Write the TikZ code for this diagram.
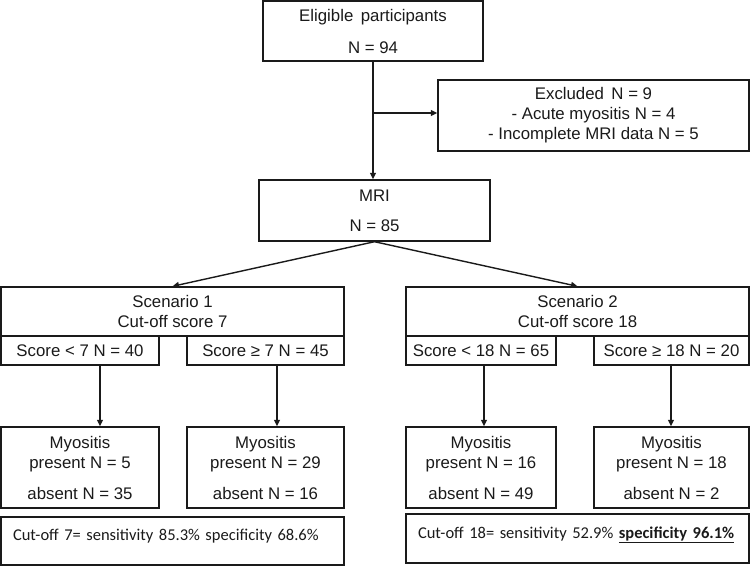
\documentclass[tikz,border=0pt]{standalone}
\usepackage{fontspec}
\setmainfont{Liberation Sans}
\newfontfamily\calib{Carlito}
\usetikzlibrary{arrows.meta}
\definecolor{ink}{HTML}{1A1A1A}
\tikzset{
  box/.style={draw=ink, text=ink, line width=1.4pt, inner sep=0pt, align=center,
    font=\fontsize{16.8}{20}\selectfont},
  notebox/.style={draw=ink, text=ink, line width=1.4pt, inner xsep=12pt, inner ysep=0pt,
    text width=319pt, align=left, text height=12.5pt, text depth=13.5pt,
    font=\calib\fontsize{16.5}{19.8}\selectfont},
  arr/.style={draw=ink, line width=1.4pt, -{Triangle[length=6.5pt,width=6pt]}}
}
\begin{document}
\begin{tikzpicture}[x=1pt,y=-1pt]
\useasboundingbox (0,0) rectangle (750,566);
% top
\node[box, minimum width=220pt, minimum height=60pt] (elig) at (373,31)
  {Eligible\, participants\\[12pt]N = 94};
\node[box, minimum width=311pt, minimum height=71pt] (excl) at (593.5,115.5)
  {Excluded\, N = 9\\- Acute myositis N = 4\\- Incomplete MRI data N = 5};
\node[box, minimum width=231pt, minimum height=61pt] (mri) at (374.5,210.5)
  {MRI\\[10pt]N = 85};
% scenarios
\node[box, minimum width=343pt, minimum height=49pt] (sc1) at (172.5,311.5)
  {Scenario 1\\Cut-off score 7};
\node[box, minimum width=343pt, minimum height=49pt] (sc2) at (577.5,311.5)
  {Scenario 2\\Cut-off score 18};
\node[box, minimum width=158pt, minimum height=29pt] (s1a) at (80,350.5) {Score < 7 N = 40};
\node[box, minimum width=157pt, minimum height=29pt] (s1b) at (265.5,350.5) {Score ≥ 7 N = 45};
\node[box, minimum width=150pt, minimum height=29pt] (s2a) at (481,350.5) {Score < 18 N = 65};
\node[box, minimum width=155pt, minimum height=29pt] (s2b) at (671.5,350.5) {Score ≥ 18 N = 20};
% results
\node[box, minimum width=158pt, minimum height=81pt] (m1) at (80,467.5)
  {Myositis\\present N = 5\\[11pt]absent N = 35};
\node[box, minimum width=157pt, minimum height=81pt] (m2) at (265.5,467.5)
  {Myositis\\present N = 29\\[11pt]absent N = 16};
\node[box, minimum width=150pt, minimum height=81pt] (m3) at (481,467.5)
  {Myositis\\present N = 16\\[11pt]absent N = 49};
\node[box, minimum width=155pt, minimum height=81pt] (m4) at (671.5,467.5)
  {Myositis\\present N = 18\\[11pt]absent N = 2};
% notes
\node[notebox, minimum height=48pt] (c1) at (172.5,541)
  {Cut-off 7= sensitivity 85.3\% specificity 68.6\%};
\node[notebox, minimum height=49pt] (c2) at (577.5,538.5)
  {\mbox{Cut-off 18= sensitivity 52.9\% \underline{\textbf{specificity 96.1\%}}}};
% connectors
\draw[arr] (elig.south) -- (elig.south |- mri.north);
\coordinate (br) at (373,113);
\draw[arr] (br) -- (br -| excl.west);
\draw[arr] (mri.south) -- (sc1.north);
\draw[arr] (mri.south) -- (sc2.north);
\coordinate (a1) at (100,400);
\coordinate (a2) at (277,400);
\coordinate (a3) at (484,400);
\coordinate (a4) at (671,400);
\draw[arr] (s1a.south -| a1) -- (m1.north -| a1);
\draw[arr] (s1b.south -| a2) -- (m2.north -| a2);
\draw[arr] (s2a.south -| a3) -- (m3.north -| a3);
\draw[arr] (s2b.south -| a4) -- (m4.north -| a4);
\end{tikzpicture}
\end{document}
